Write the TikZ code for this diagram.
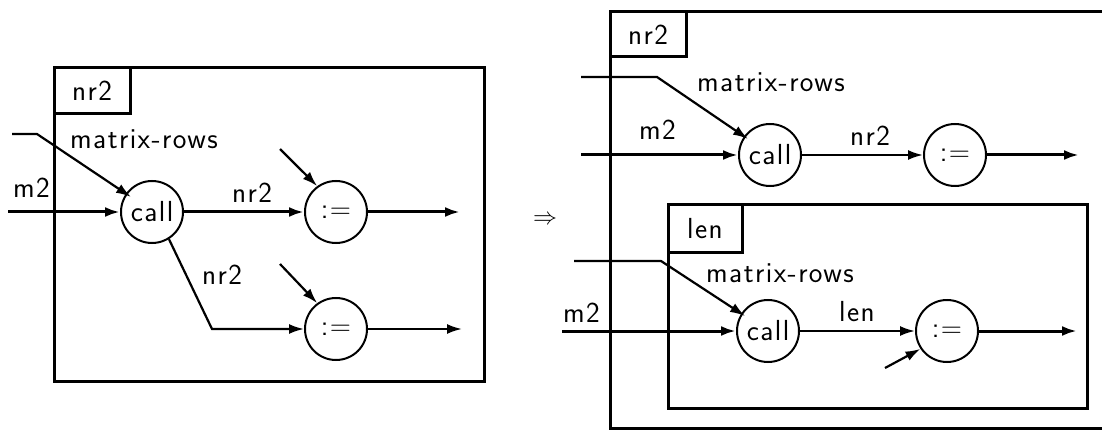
\documentclass[tikz,border=0pt]{standalone}
\usepackage{fontspec}
\usepackage{graphicx}
\usetikzlibrary{positioning, arrows.meta, calc}
\newfontfamily\dfLabel[LetterSpace=5]{Latin Modern Sans}

\begin{document}
\begin{tikzpicture}[
    x=1pt, y=-1pt,
    font=\dfLabel\fontsize{29}{32}\selectfont,
    frame/.style={
        draw, line width=3pt, outer sep=0pt, inner sep=0pt,
        anchor=north west
    },
    tag/.style={
        draw, line width=3pt, outer sep=0pt, inner sep=0pt,
        anchor=north west, minimum height=46pt
    },
    op/.style={
        circle, draw, line width=2pt, minimum size=62pt, inner sep=0pt
    },
    lbl/.style={anchor=base west, inner sep=0pt},
    wire/.style={line width=2.2pt, -{Latex[length=15pt,width=10pt]}},
    heavy/.style={wire, line width=3pt}
]
\useasboundingbox (0,0) rectangle (1102,430);

% === Left: before ===
\node[frame, minimum width=430pt, minimum height=313pt] (l_frame) at (54,68) {};
\node[tag, minimum width=76pt] (l_tag) at (l_frame.north west) {nr2};

\node[op] (l_call) at (152,212) {call};
\node[op, right=120pt of l_call] (l_asg1) {:=};
\node[op, below=53pt of l_asg1] (l_asg2) {:=};

\node[lbl] (l_mr) at (70,149) {matrix-rows};
\node[lbl] (l_m2) at (13,198) {m2};
\node[lbl] (l_nr2a) at (232,203) {nr2};
\node[lbl] (l_nr2b) at (202,284) {nr2};

\coordinate (l_in_mr) at (12,134);
\coordinate (l_bend_mr) at (37,134);
\coordinate (l_in_m2) at (8,212);
\coordinate (l_bend_b) at (212,329);
\coordinate (l_in_a1) at (280,149);
\coordinate (l_in_a2) at (280,264);
\coordinate (l_out1) at (460,212);
\coordinate (l_out2) at (462,329);

\draw[wire] (l_in_mr) -- (l_bend_mr) -- ($(l_call.center)+(-21,-15)$);
\draw[heavy] (l_in_m2) -- (l_call);
\draw[heavy] (l_call) -- (l_asg1);
\draw[wire] (l_call.-58) -- (l_bend_b) -- (l_asg2);
\draw[wire] (l_in_a1) -- (l_asg1.126);
\draw[wire] (l_in_a2) -- (l_asg2.126);
\draw[heavy] (l_asg1) -- (l_out1);
\draw[wire] (l_asg2) -- (l_out2);

% transformation arrow
\node (impl) at (545,220) {\fontsize{10}{12}\selectfont\scalebox{2.4}{$\Rightarrow$}};

% === Right: after ===
\coordinate (r_corner) at (610,12);
\draw[line width=3pt] (1104,12) -| (610,428) -- (1104,428);
\node[tag, minimum width=76pt, minimum height=45pt] (r_tag1) at (r_corner) {nr2};

\node[frame, minimum width=419pt, minimum height=203pt] (r_frame2) at (668,205) {};
\node[tag, minimum width=74pt, minimum height=48pt] (r_tag2) at (r_frame2.north west) {len};

% upper row
\node[op] (r_call1) at (770,155) {call};
\node[op, right=121pt of r_call1] (r_asg1) {:=};

\node[lbl] (r_mr1) at (697,92) {matrix-rows};
\node[lbl] (r_m21) at (639,140) {m2};
\node[lbl] (r_nr2) at (850,146) {nr2};

\coordinate (r_in_mr1) at (581,77);
\coordinate (r_bend_mr1) at (657,77);
\coordinate (r_in_m21) at (581,155);
\coordinate (r_out1) at (1079,155);

\draw[wire] (r_in_mr1) -- (r_bend_mr1) -- ($(r_call1.center)+(-22,-16)$);
\draw[heavy] (r_in_m21) -- (r_call1);
\draw[wire] (r_call1) -- (r_asg1);
\draw[heavy] (r_asg1) -- (r_out1);

% lower row (inside len)
\node[op] (r_call2) at (768,331) {call};
\node[op, right=115pt of r_call2] (r_asg2) {:=};

\node[lbl] (r_mr2) at (706,282) {matrix-rows};
\node[lbl] (r_m22) at (563,322) {m2};
\node[lbl] (r_len) at (839,321) {len};

\coordinate (r_in_mr2) at (574,261);
\coordinate (r_bend_mr2) at (661,261);
\coordinate (r_in_m22) at (562,331);
\coordinate (r_in_a2) at (885,368);
\coordinate (r_out2) at (1077,331);

\draw[wire] (r_in_mr2) -- (r_bend_mr2) -- ($(r_call2.center)+(-23,-15)$);
\draw[heavy] (r_in_m22) -- (r_call2);
\draw[wire] (r_call2) -- (r_asg2);
\draw[wire] (r_in_a2) -- (r_asg2.214);
\draw[heavy] (r_asg2) -- (r_out2);

\end{tikzpicture}
\end{document}
